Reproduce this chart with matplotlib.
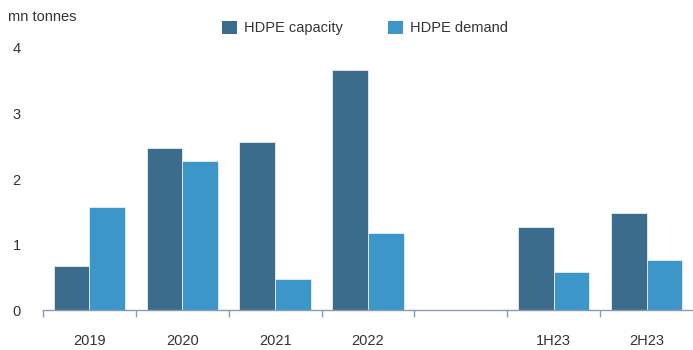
import numpy as np
import matplotlib
matplotlib.use("Agg")
import matplotlib.pyplot as plt
from matplotlib.patches import Patch

categories = ["2019", "2020", "2021", "2022", "", "1H23", "2H23"]
capacity = [0.67, 2.47, 2.56, 3.66, np.nan, 1.27, 1.48]
demand = [1.57, 2.27, 0.47, 1.17, np.nan, 0.58, 0.77]

c_cap = "#3b6c8c"
c_dem = "#3d96c9"
txt = "#333333"
axis_col = "#8a9bb0"

plt.rcParams["font.family"] = ["Liberation Sans", "DejaVu Sans"]

fig = plt.figure(figsize=(6.93, 3.5), dpi=100)
ax = fig.add_axes([0.062, 0.114, 0.938, 0.749])

x = np.arange(len(categories))
w = 0.385
ax.bar(x - w / 2, capacity, w, color=c_cap, edgecolor="#e6eef4", linewidth=0.6)
ax.bar(x + w / 2, demand, w, color=c_dem, edgecolor="#e6eef4", linewidth=0.6)

ax.set_xlim(-0.5, len(categories) - 0.5)
ax.set_ylim(0, 4)

for s in ["top", "right", "left"]:
    ax.spines[s].set_visible(False)
ax.spines["bottom"].set_color(axis_col)
ax.spines["bottom"].set_linewidth(1)

# category boundary ticks
ax.set_xticks(np.arange(len(categories)) - 0.5, minor=False)
ax.set_xticklabels([""] * len(categories))
ax.tick_params(axis="x", which="major", length=5, color=axis_col, width=1)
ax.set_xticks(x, minor=True)
ax.set_xticklabels(categories, minor=True)
ax.tick_params(axis="x", which="minor", length=0, pad=17, labelsize=10.5, labelcolor=txt)

ax.set_yticks([0, 1, 2, 3, 4])
ax.set_yticklabels(["0", "1", "2", "3", "4"])
ax.tick_params(axis="y", length=0, pad=22, labelsize=10.5, labelcolor=txt)
for lab in ax.get_yticklabels():
    lab.set_horizontalalignment("left")

fig.text(8 / 693, 1 - 17 / 350, "mn tonnes", fontsize=10.5, color=txt, va="center", ha="left")

handles = [Patch(facecolor=c_cap, label="HDPE capacity"),
           Patch(facecolor=c_dem, label="HDPE demand")]
fig.legend(handles=handles, loc="center left", bbox_to_anchor=(209 / 693, 1 - 28 / 350),
           ncol=2, frameon=False, fontsize=10.5, labelcolor=txt,
           handlelength=1.0, handleheight=1.0, handletextpad=0.5, columnspacing=3.1)

fig.savefig("out.png", dpi=100)
